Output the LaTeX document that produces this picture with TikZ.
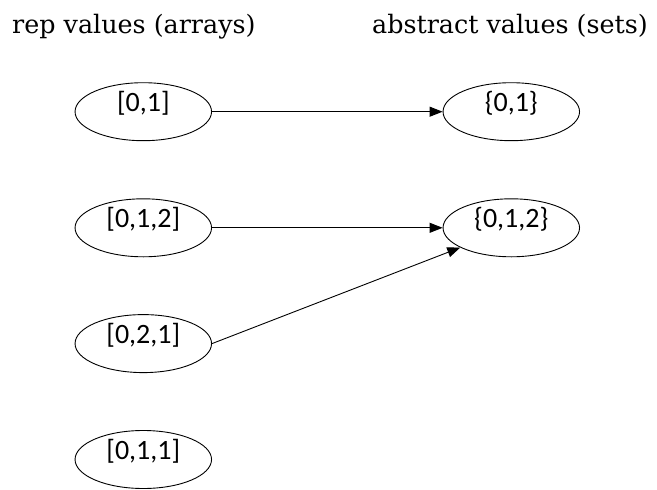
\documentclass[tikz,border=0pt]{standalone}
\usepackage{fontspec}
\setmainfont{DejaVu Serif}
\newfontfamily\nodefont{Carlito}
\usetikzlibrary{shapes.geometric,arrows.meta}
\begin{document}
\begin{tikzpicture}[x=1pt,y=-1pt,
  valnode/.style={draw,ellipse,line width=0.9pt,inner sep=0pt,
    minimum width=136.5pt,minimum height=58pt,
    font=\nodefont\fontsize{28}{28}\selectfont,text height=10pt,text depth=10pt},
  header/.style={inner sep=0pt,anchor=base west,font=\fontsize{25.4}{26}\selectfont},
  mapsto/.style={line width=0.9pt,-{Triangle[length=13pt,width=10pt]}}]
\useasboundingbox (0,0) rectangle (657,490);
\node[header] (h1) at (12,33) {rep values (arrays)};
\node[header] (h2) at (372,33) {abstract values (sets)};
\node[valnode] (l1) at (143.3,111.7) {[0,1]};
\node[valnode] (l2) at (143.3,227.8) {[0,1,2]};
\node[valnode] (l3) at (143.3,343.6) {[0,2,1]};
\node[valnode] (l4) at (143.3,459.5) {[0,1,1]};
\node[valnode] (r1) at (511.3,111.7) {\{0,1\}};
\node[valnode] (r2) at (511.3,227.8) {\{0,1,2\}};
\draw[mapsto] (l1) -- (r1);
\draw[mapsto] (l2) -- (r2);
\draw[mapsto] (l3.east) -- (r2);
\end{tikzpicture}
\end{document}
